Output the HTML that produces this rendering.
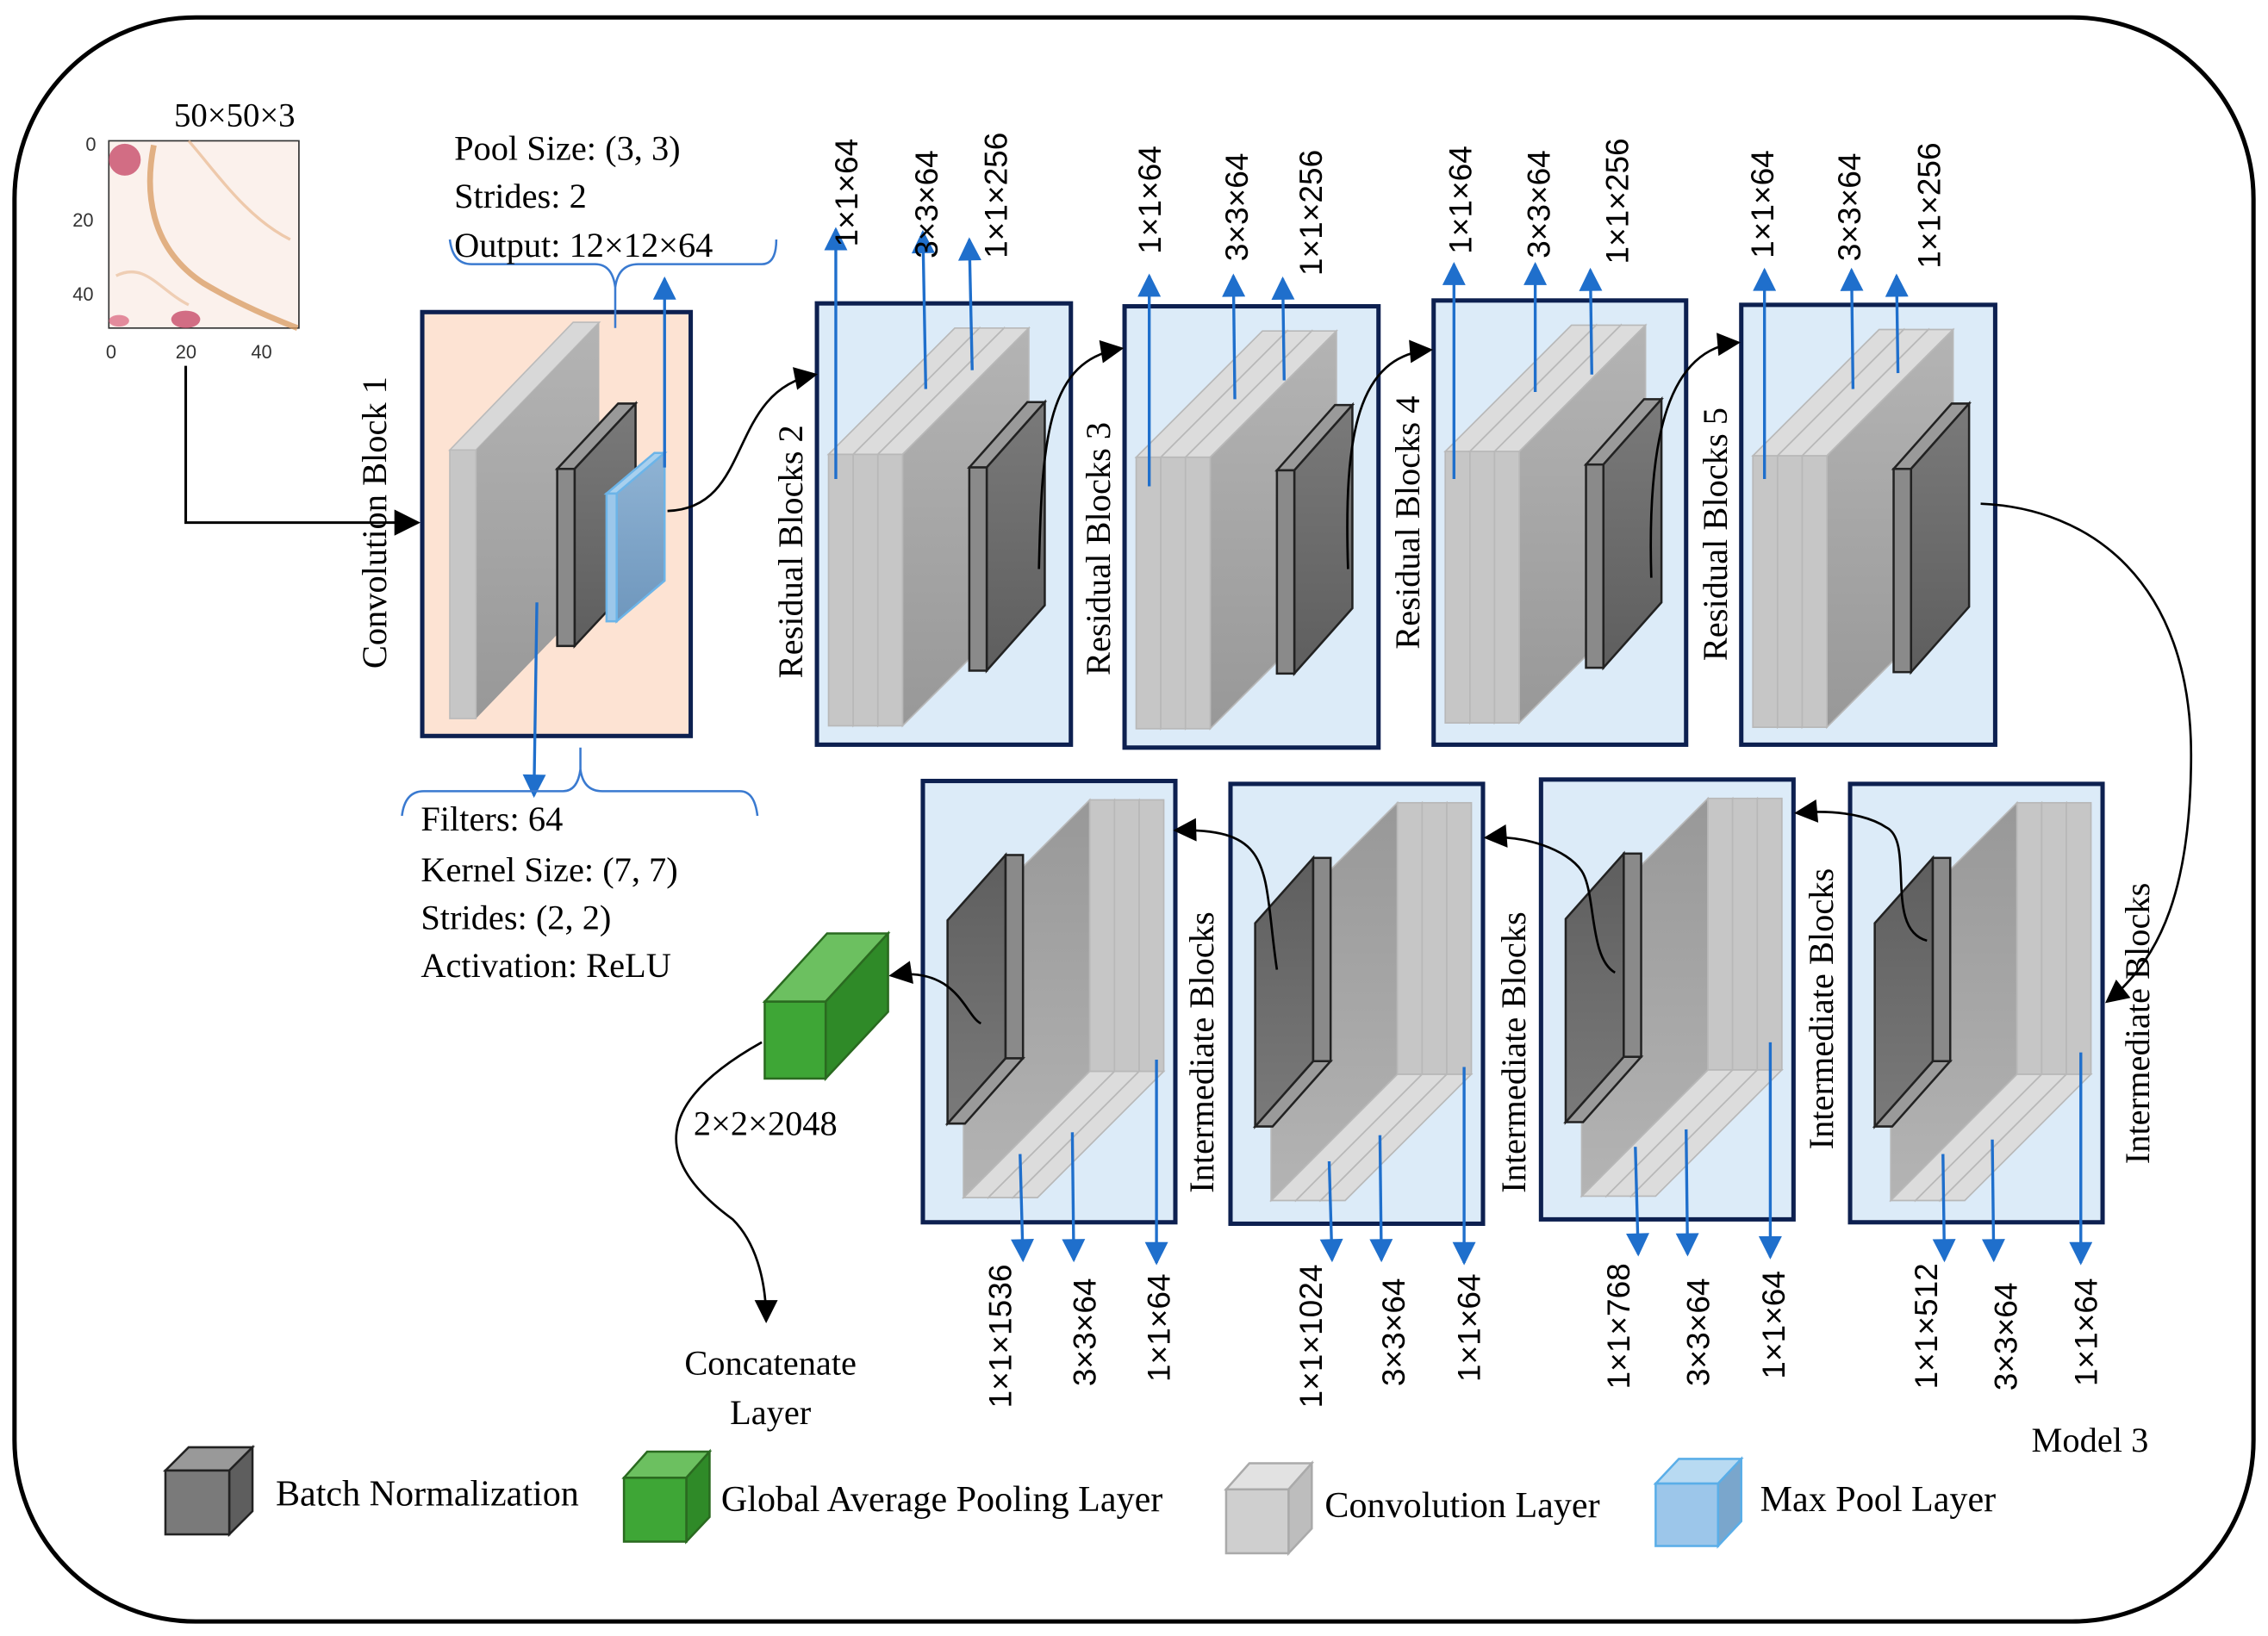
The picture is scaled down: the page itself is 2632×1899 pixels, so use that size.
<!DOCTYPE html>
<html><head><meta charset="utf-8"><style>
html,body{margin:0;padding:0;background:#fff;}
svg{display:block;}
.s{font-family:"Liberation Serif",serif;fill:#000;}
.d{font-family:"Liberation Sans",sans-serif;fill:#000;font-size:22px;}
</style></head><body>
<svg width="2632" height="1899" viewBox="0 0 1563 1127" preserveAspectRatio="none" xmlns="http://www.w3.org/2000/svg">
<defs>
<linearGradient id="gs" x1="0" y1="0" x2="0" y2="1"><stop offset="0" stop-color="#b4b4b4"/><stop offset="1" stop-color="#989898"/></linearGradient>
<linearGradient id="gd" x1="0" y1="0" x2="0" y2="1"><stop offset="0" stop-color="#7a7a7a"/><stop offset="1" stop-color="#5e5e5e"/></linearGradient>
<linearGradient id="gb" x1="0" y1="0" x2="0" y2="1"><stop offset="0" stop-color="#8fb3d4"/><stop offset="1" stop-color="#6f97bd"/></linearGradient>
<marker id="ab" viewBox="0 0 10 10" refX="9" refY="5" markerWidth="11" markerHeight="10" orient="auto-start-reverse"><path d="M0,0L10,5L0,10z" fill="#000"/></marker>
<marker id="au" viewBox="0 0 10 10" refX="9" refY="5" markerWidth="9" markerHeight="8" orient="auto"><path d="M0,0L10,5L0,10z" fill="#1f6fcc"/></marker>
<g id="blk">
  <g stroke="#b8b8b8" stroke-width="1">
  <polygon points="8,104 25,104 112,17 95,17" fill="#dcdcdc"/>
  <polygon points="25,104 112,17 112,204 25,291" fill="url(#gs)"/>
  <rect x="8" y="104" width="17" height="187" fill="#c6c6c6"/>
  <polygon points="25,104 42,104 129,17 112,17" fill="#dcdcdc"/>
  <polygon points="42,104 129,17 129,204 42,291" fill="url(#gs)"/>
  <rect x="25" y="104" width="17" height="187" fill="#c6c6c6"/>
  <polygon points="42,104 59,104 146,17 129,17" fill="#dcdcdc"/>
  <polygon points="59,104 146,17 146,204 59,291" fill="url(#gs)"/>
  <rect x="42" y="104" width="17" height="187" fill="#c6c6c6"/>
  </g>
  <g stroke="#222" stroke-width="1.5">
  <polygon points="105,113 117,113 157,68 145,68" fill="#9a9a9a"/>
  <polygon points="117,113 157,68 157,208 117,253" fill="url(#gd)"/>
  <rect x="105" y="113" width="12" height="140" fill="#8a8a8a"/>
  </g>
</g>
</defs>

<rect x="10" y="12" width="1543" height="1105" rx="125" ry="125" fill="#fff" stroke="#000" stroke-width="3"/>

<!-- input image -->
<text x="120" y="87" class="s" font-size="23">50×50×3</text>
<rect x="75" y="97" width="131" height="129" fill="#fbf1ec" stroke="#333" stroke-width="1"/>
<path d="M106,100 C100,130 102,170 140,195 C165,210 190,220 205,226" stroke="#d89a60" stroke-width="4" fill="none" opacity="0.75"/>
<path d="M130,97 C150,120 170,150 200,165" stroke="#e8b890" stroke-width="2" fill="none" opacity="0.7"/>
<path d="M80,190 C100,180 110,200 130,210" stroke="#e8b890" stroke-width="2" fill="none" opacity="0.6"/>
<ellipse cx="86" cy="110" rx="11" ry="11" fill="#c84c6a" opacity="0.8"/>
<ellipse cx="128" cy="220" rx="10" ry="6" fill="#c84c6a" opacity="0.8"/>
<ellipse cx="82" cy="221" rx="7" ry="4" fill="#d8607a" opacity="0.7"/>
<g font-family="Liberation Sans,sans-serif" font-size="13" fill="#333">
<text x="59" y="104">0</text><text x="50" y="156">20</text><text x="50" y="207">40</text>
<text x="73" y="247">0</text><text x="121" y="247">20</text><text x="173" y="247">40</text>
</g>
<polyline points="128,252 128,360 288,360" stroke="#000" stroke-width="1.8" fill="none" marker-end="url(#ab)"/>

<!-- conv block 1 -->
<rect x="291" y="215" width="185" height="292" fill="#fde3d3" stroke="#0d2050" stroke-width="3"/>
<polygon points="310,310 328,310 413,222 395,222" fill="#d8d8d8" stroke="#bbb"/>
<polygon points="328,310 413,222 413,407 328,495" fill="url(#gs)"/>
<rect x="310" y="310" width="18" height="185" fill="#c6c6c6" stroke="#bbb"/>
<g stroke="#222" stroke-width="1.5">
<polygon points="384,323 396,323 438,278 426,278" fill="#999"/>
<polygon points="396,323 438,278 438,400 396,445" fill="url(#gd)"/>
<rect x="384" y="323" width="12" height="122" fill="#8a8a8a"/>
</g>
<g stroke="#6cb4e8" stroke-width="1.5">
<polygon points="418,340 425,340 458,312 451,312" fill="#a8d0ee"/>
<polygon points="425,340 458,312 458,400 425,428" fill="url(#gb)"/>
<rect x="418" y="340" width="7" height="88" fill="#9cc7ea"/>
</g>
<text class="s" font-size="24" transform="translate(266,360) rotate(-90)" text-anchor="middle">Convolution  Block 1</text>
<path d="M310,165 Q312,182 325,182 L410,182 Q422,182 424,198 L424,226 M424,198 Q426,182 440,182 L525,182 Q535,182 535,165" stroke="#3a7ad0" stroke-width="1.5" fill="none"/>
<line x1="458" y1="322" x2="458" y2="192" stroke="#1f6fcc" stroke-width="2" marker-end="url(#au)"/>
<line x1="370" y1="415" x2="368" y2="548" stroke="#1f6fcc" stroke-width="2" marker-end="url(#au)"/>
<path d="M277,562 Q279,545 292,545 L388,545 Q398,545 400,530 L400,515 M400,530 Q402,545 415,545 L510,545 Q520,545 522,562" stroke="#3a7ad0" stroke-width="1.5" fill="none"/>
<g class="s" font-size="24">
<text x="313" y="110">Pool Size: (3, 3)</text>
<text x="313" y="143">Strides: 2</text>
<text x="313" y="177">Output: 12×12×64</text>
<text x="290" y="572">Filters: 64</text>
<text x="290" y="607">Kernel Size: (7, 7)</text>
<text x="290" y="640">Strides: (2, 2)</text>
<text x="290" y="673">Activation: ReLU</text>
<text x="478" y="782">2×2×2048</text>
<text x="531" y="947" text-anchor="middle">Concatenate</text>
<text x="531" y="981" text-anchor="middle">Layer</text>
<text x="1400" y="1000">Model 3</text>
</g>

<g fill="#dcebf8" stroke="#0d2050" stroke-width="3">
<rect x="563" y="209" width="175" height="304"/>
<rect x="775" y="211" width="175" height="304"/>
<rect x="988" y="207" width="174" height="306"/>
<rect x="1200" y="210" width="175" height="303"/>
<rect x="636" y="538" width="174" height="304"/>
<rect x="848" y="540" width="174" height="303"/>
<rect x="1062" y="537" width="174" height="303"/>
<rect x="1275" y="540" width="174" height="302"/>
</g>
<use href="#blk" x="563" y="209"/>
<use href="#blk" x="775" y="211"/>
<use href="#blk" x="988" y="207"/>
<use href="#blk" x="1200" y="210"/>
<g transform="translate(636,538) rotate(180 87 152)"><use href="#blk"/></g>
<g transform="translate(848,540) rotate(180 87 152)"><use href="#blk"/></g>
<g transform="translate(1062,537) rotate(180 87 152)"><use href="#blk"/></g>
<g transform="translate(1275,540) rotate(180 87 152)"><use href="#blk"/></g>

<g class="s" font-size="24" text-anchor="middle">
<text transform="translate(553,380) rotate(-90)">Residual  Blocks 2</text>
<text transform="translate(765,378) rotate(-90)">Residual  Blocks 3</text>
<text transform="translate(978,360) rotate(-90)">Residual  Blocks 4</text>
<text transform="translate(1190,368) rotate(-90)">Residual  Blocks 5</text>
<text transform="translate(836,725) rotate(-90)">Intermediate  Blocks</text>
<text transform="translate(1051,725) rotate(-90)">Intermediate  Blocks</text>
<text transform="translate(1263,695) rotate(-90)">Intermediate  Blocks</text>
<text transform="translate(1481,705) rotate(-90)">Intermediate  Blocks</text>
</g>

<g stroke="#1f6fcc" stroke-width="2" marker-end="url(#au)">
<line x1="576" y1="330" x2="576" y2="158"/><line x1="638" y1="268" x2="636" y2="160"/><line x1="670" y1="255" x2="668" y2="165"/>
<line x1="792" y1="335" x2="792" y2="190"/><line x1="851" y1="275" x2="850" y2="190"/><line x1="885" y1="262" x2="884" y2="192"/>
<line x1="1002" y1="330" x2="1002" y2="182"/><line x1="1058" y1="270" x2="1058" y2="182"/><line x1="1097" y1="258" x2="1096" y2="186"/>
<line x1="1216" y1="330" x2="1216" y2="186"/><line x1="1277" y1="268" x2="1276" y2="186"/><line x1="1308" y1="257" x2="1307" y2="190"/>
<line x1="703" y1="795" x2="705" y2="868"/><line x1="739" y1="780" x2="740" y2="868"/><line x1="797" y1="730" x2="797" y2="870"/>
<line x1="916" y1="800" x2="918" y2="868"/><line x1="951" y1="782" x2="952" y2="868"/><line x1="1009" y1="735" x2="1009" y2="870"/>
<line x1="1127" y1="790" x2="1129" y2="864"/><line x1="1162" y1="778" x2="1163" y2="864"/><line x1="1220" y1="718" x2="1220" y2="866"/>
<line x1="1339" y1="795" x2="1340" y2="868"/><line x1="1373" y1="785" x2="1374" y2="868"/><line x1="1434" y1="725" x2="1434" y2="870"/>
</g>

<g class="d">
<text transform="translate(591,170) rotate(-90)">1×1×64</text>
<text transform="translate(646,178) rotate(-90)">3×3×64</text>
<text transform="translate(694,178) rotate(-90)">1×1×256</text>
<text transform="translate(800,175) rotate(-90)">1×1×64</text>
<text transform="translate(860,180) rotate(-90)">3×3×64</text>
<text transform="translate(911,190) rotate(-90)">1×1×256</text>
<text transform="translate(1014,175) rotate(-90)">1×1×64</text>
<text transform="translate(1068,178) rotate(-90)">3×3×64</text>
<text transform="translate(1122,182) rotate(-90)">1×1×256</text>
<text transform="translate(1222,178) rotate(-90)">1×1×64</text>
<text transform="translate(1282,180) rotate(-90)">3×3×64</text>
<text transform="translate(1337,185) rotate(-90)">1×1×256</text>
<text transform="translate(697,970) rotate(-90)">1×1×1536</text>
<text transform="translate(755,955) rotate(-90)">3×3×64</text>
<text transform="translate(806,952) rotate(-90)">1×1×64</text>
<text transform="translate(911,970) rotate(-90)">1×1×1024</text>
<text transform="translate(968,955) rotate(-90)">3×3×64</text>
<text transform="translate(1020,952) rotate(-90)">1×1×64</text>
<text transform="translate(1123,957) rotate(-90)">1×1×768</text>
<text transform="translate(1178,955) rotate(-90)">3×3×64</text>
<text transform="translate(1230,950) rotate(-90)">1×1×64</text>
<text transform="translate(1335,957) rotate(-90)">1×1×512</text>
<text transform="translate(1390,958) rotate(-90)">3×3×64</text>
<text transform="translate(1445,955) rotate(-90)">1×1×64</text>
</g>

<g stroke="#000" stroke-width="1.6" fill="none" marker-end="url(#ab)">
<path d="M460,352 C520,350 500,270 562,258"/>
<path d="M716,392 C718,300 722,248 773,240"/>
<path d="M929,392 C926,300 935,245 986,241"/>
<path d="M1138,398 C1135,300 1150,240 1198,236"/>
<path d="M1365,347 C1440,350 1510,400 1510,520 C1510,610 1490,660 1452,690"/>
<path d="M1328,648 C1298,640 1320,580 1300,570 C1285,560 1260,558 1238,560"/>
<path d="M1113,670 C1095,660 1100,615 1090,600 C1080,585 1050,575 1024,577"/>
<path d="M880,668 C870,600 880,570 810,572"/>
<path d="M676,705 C665,700 660,665 614,672"/>
<path d="M525,718 C450,760 450,800 505,840 C520,855 528,880 528,910"/>
</g>

<g stroke="#2a6a20" stroke-width="1.5">
<polygon points="527,690 570,643 612,643 569,690" fill="#6cc060"/>
<polygon points="569,690 612,643 612,697 569,743" fill="#2f8a28"/>
<rect x="527" y="690" width="42" height="53" fill="#3ea636"/>
</g>

<g stroke="#222" stroke-width="1.5">
<polygon points="114,1013 130,997 174,997 158,1013" fill="#999"/>
<polygon points="158,1013 174,997 174,1041 158,1057" fill="#5e5e5e"/>
<rect x="114" y="1013" width="44" height="44" fill="#7a7a7a"/>
</g>
<g stroke="#2a6a20" stroke-width="1.5"><polygon points="430,1018 446,1000 489,1000 473,1018" fill="#6cc060"/><polygon points="473,1018 489,1000 489,1045 473,1062" fill="#2f8a28"/><rect x="430" y="1018" width="43" height="44" fill="#3ea636"/></g>
<g stroke="#aaa" stroke-width="1.5"><polygon points="845,1026 861,1008 904,1008 888,1026" fill="#e2e2e2"/><polygon points="888,1026 904,1008 904,1053 888,1070" fill="#bdbdbd"/><rect x="845" y="1026" width="43" height="44" fill="#cfcfcf"/></g>
<g stroke="#5aaee8" stroke-width="1.5"><polygon points="1141,1022 1157,1005 1200,1005 1184,1022" fill="#b8daf2"/><polygon points="1184,1022 1200,1005 1200,1048 1184,1065" fill="#7aa6cc"/><rect x="1141" y="1022" width="43" height="43" fill="#9cc6ea"/></g>
<g class="s" font-size="25">
<text x="190" y="1037">Batch Normalization</text>
<text x="497" y="1041">Global Average Pooling Layer</text>
<text x="913" y="1045">Convolution Layer</text>
<text x="1213" y="1041">Max Pool Layer</text>
</g>
</svg>
</body></html>
